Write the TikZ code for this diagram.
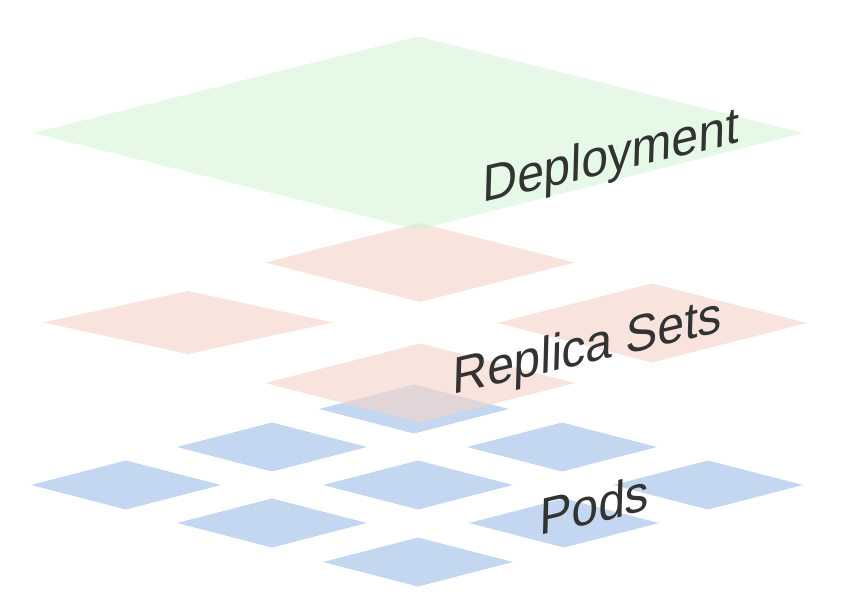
\documentclass[tikz,border=0pt]{standalone}
\usepackage{fontspec}
\setmainfont{Liberation Sans}
\usepackage{xcolor}
\usetikzlibrary{shapes.geometric}
\newcommand{\myunit}{0.5pt}
\definecolor{podblue}{RGB}{196,215,240}
\definecolor{rsrose}{RGB}{244,213,202}
\definecolor{depgreen}{RGB}{205,243,205}
\definecolor{lblgray}{RGB}{51,51,51}
\tikzset{
    podsty/.style={diamond,fill=podblue,inner sep=0pt,outer sep=0pt,minimum width={190*\myunit},minimum height={49*\myunit}},
    rssty/.style={diamond,fill=rsrose,fill opacity=0.64,inner sep=0pt,outer sep=0pt,minimum width={310*\myunit},minimum height={79*\myunit}},
    rsthinsty/.style={rssty,minimum width={290*\myunit},minimum height={63*\myunit}},
    depsty/.style={diamond,fill=depgreen,fill opacity=0.5,inner sep=0pt,outer sep=0pt,minimum width={771*\myunit},minimum height={193*\myunit}},
    lblsty/.style={anchor=base west,inner sep=0pt,text=lblgray,font=\fontsize{24}{27}\selectfont,cm={1,0.235,0.03,1.08,(0,0)}},
}

\begin{document}
\begin{tikzpicture}[x=\myunit,y=\myunit]
\useasboundingbox (0,0) rectangle (858,602);

% pods
\node[podsty] (pod11) at (414,193) {};
\node[podsty] (pod21) at (272,155) {};
\node[podsty] (pod22) at (562,155) {};
\node[podsty] (pod31) at (126,117) {};
\node[podsty] (pod32) at (418,117) {};
\node[podsty] (pod33) at (708,117) {};
\node[podsty] (pod41) at (272,79) {};
\node[podsty] (pod42) at (564,79) {};
\node[podsty] (pod51) at (418,40) {};

% replica sets
\node[rssty] (rstop) at (420,339.5) {};
\node[rsthinsty] (rsleft) at (188,279.5) {};
\node[rssty] (rsright) at (652,279) {};
\node[rssty] (rsbot) at (420,219) {};

% deployment
\node[depsty] (dep) at (418,469) {};

\node[lblsty] (deplbl) at (482,399) {Deployment};
\node[lblsty] (rslbl) at (452,207) {Replica Sets};
\node[lblsty] (podlbl) at (539,66) {Pods};
\end{tikzpicture}
\end{document}
